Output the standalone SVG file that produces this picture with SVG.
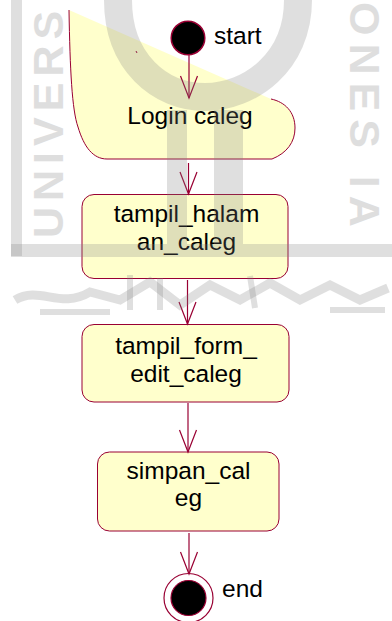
<svg xmlns="http://www.w3.org/2000/svg" width="392" height="621" viewBox="0 0 392 621">
<style>
.node{fill:#ffffcc;stroke:#990033;stroke-width:1}
.lbl{font-family:"Liberation Sans",Arial,sans-serif;font-size:24.5px;fill:#000;text-anchor:middle}
.edge{stroke:#990033;stroke-width:1.2;fill:none}
.wm{fill:#808080;opacity:0.25}
.wmt{font-family:"Liberation Sans",Arial,sans-serif;font-weight:bold;font-size:43px;fill:#808080;opacity:0.25}
</style>
<defs>
<marker id="arr" viewBox="0 0 24 20" refX="22" refY="9" markerWidth="24" markerHeight="20" markerUnits="userSpaceOnUse" orient="auto" overflow="visible">
<path d="M0,0.5 L22,9 L0,17.5" fill="none" stroke="#990033" stroke-width="1.2"/>
</marker>
</defs>
<rect width="392" height="621" fill="#ffffff"/>

<g id="start">
<circle cx="188" cy="38" r="16.8" fill="#000" stroke="#990033" stroke-width="1.5"/>
<text x="214" y="43.5" class="lbl" style="text-anchor:start">start</text>
</g>

<g id="login">
<path d="M69,10 C70,70 72,110 78,127 C84,147 93,159 107,159 L272,159 C287,153 295,142 295,128 C295,112 285,102 271,99 Z" fill="#ffffcc" stroke="none"/>
<path d="M69,10 C70,70 72,110 78,127 C84,147 93,159 107,159 L272,159 C287,153 295,142 295,128 C295,112 285,102 271,99" fill="none" stroke="#990033" stroke-width="1"/>
<line x1="136" y1="51" x2="137" y2="53" stroke="#990033" stroke-width="1"/>
<text x="190" y="124" class="lbl">Login caleg</text>
</g>

<g id="tampil_halaman_caleg">
<rect x="82" y="194.5" width="206" height="84" rx="12" class="node"/>
<text x="186.5" y="221.5" class="lbl">tampil_halam</text>
<text x="186.5" y="250" class="lbl">an_caleg</text>
</g>

<g id="tampil_form_edit_caleg">
<rect x="82" y="324.5" width="207" height="77.5" rx="12" class="node"/>
<text x="186" y="354" class="lbl">tampil_form_</text>
<text x="186" y="382" class="lbl">edit_caleg</text>
</g>

<g id="simpan_caleg">
<rect x="97.5" y="452" width="181.5" height="79" rx="12" class="node"/>
<text x="188.5" y="478.5" class="lbl">simpan_cal</text>
<text x="188.5" y="506" class="lbl">eg</text>
</g>

<g id="end">
<circle cx="188.5" cy="598" r="24.5" fill="#fff" stroke="#990033" stroke-width="1.2"/>
<circle cx="188.5" cy="598" r="17.5" fill="#000" stroke="#990033" stroke-width="1.2"/>
<text x="222" y="597" class="lbl" style="text-anchor:start">end</text>
</g>

<g id="connectors">
<line x1="189" y1="55" x2="189" y2="98" class="edge" marker-end="url(#arr)"/>
<line x1="188.5" y1="163" x2="188.5" y2="194" class="edge" marker-end="url(#arr)"/>
<line x1="187.5" y1="280" x2="187.5" y2="324" class="edge" marker-end="url(#arr)"/>
<line x1="188" y1="403" x2="188" y2="452" class="edge" marker-end="url(#arr)"/>
<line x1="189" y1="533" x2="189" y2="574" class="edge" marker-end="url(#arr)"/>
</g>

<g id="watermark">
<rect x="11" y="0" width="11" height="256" class="wm"/>
<rect x="11" y="244" width="381" height="13" class="wm"/>
<path d="M118,0 C118,62 160,97 205,97 C250,97 298,62 298,0" fill="none" stroke="#808080" stroke-width="28" opacity="0.25"/>
<rect x="167" y="110" width="20" height="134" class="wm"/>
<rect x="214" y="110" width="29" height="134" class="wm"/>
<path d="M15,300 C40,285 60,310 90,292 L120,300 L150,282 L180,305 L210,285 L240,300 L270,283 L300,300 L330,285 L360,300 L388,288" fill="none" stroke="#808080" stroke-width="9" opacity="0.25"/>
<path d="M40,312 L110,312 M130,275 L130,310 M160,278 L160,310 M250,276 L255,308 M330,310 L385,310" fill="none" stroke="#808080" stroke-width="6" opacity="0.25"/>
<text class="wmt" transform="translate(63,238) rotate(-90)" style="letter-spacing:6px">UNIVERS</text>
<text class="wmt" transform="translate(350,2) rotate(90)" style="letter-spacing:8px">ONES IA</text>
</g>
</svg>
